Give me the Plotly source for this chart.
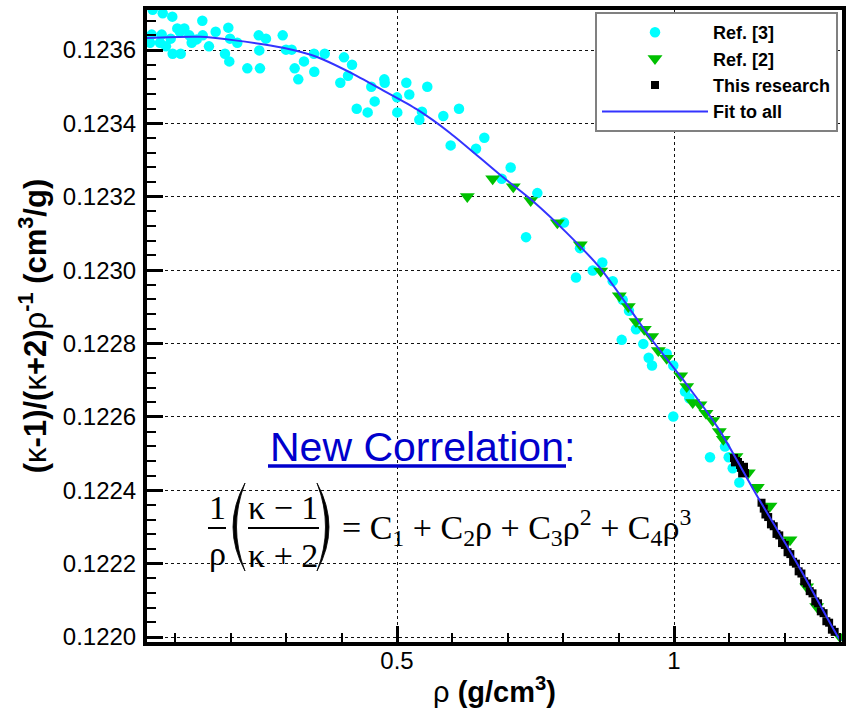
import plotly.graph_objects as go

# ---------------- data ----------------
ref3_rho = [0.0450, 0.0542, 0.0590, 0.0572, 0.0722, 0.0753, 0.0771, 0.0830, 0.0915, 0.0944,
            0.1034, 0.1083, 0.1161, 0.0951, 0.1096, 0.1251, 0.1294, 0.1384, 0.1486, 0.1493,
            0.1606, 0.1727, 0.1895, 0.1955, 0.1986, 0.1973, 0.2117, 0.2298, 0.2504, 0.2635,
            0.2514, 0.2527, 0.2937, 0.2996, 0.3099, 0.3153, 0.3218, 0.3321, 0.3502, 0.3507,
            0.3695, 0.4043, 0.4188, 0.3977, 0.4116, 0.4273, 0.4471, 0.4536, 0.4597, 0.4771,
            0.4778, 0.5000, 0.5005, 0.5168, 0.5222, 0.5451, 0.5403, 0.5547, 0.5836, 0.6119,
            0.5969, 0.6426, 0.6576, 0.7052, 0.6890, 0.7533, 0.7329, 0.8014, 0.8303, 0.8231,
            0.8532, 0.8706, 0.8894, 0.9074, 0.9188, 0.9314, 0.9056, 0.9446, 0.9543, 0.9603,
            0.9868, 0.9987, 1.0199, 1.0276, 0.9987, 1.0921, 1.0650, 1.0987, 1.1060, 1.1179]
ref3_val = [0.123631, 0.123620, 0.123710, 0.123642, 0.123620, 0.123642, 0.123700, 0.123610, 0.123631, 0.123691,
            0.123659, 0.123650, 0.123659, 0.123590, 0.123590, 0.123640, 0.123620, 0.123629, 0.123680, 0.123640,
            0.123610, 0.123650, 0.123590, 0.123661, 0.123631, 0.123569, 0.123620, 0.123550, 0.123640, 0.123631,
            0.123599, 0.123550, 0.123640, 0.123601, 0.123601, 0.123550, 0.123520, 0.123569, 0.123590, 0.123541,
            0.123590, 0.123580, 0.123560, 0.123511, 0.123530, 0.123440, 0.123430, 0.123500, 0.123460, 0.123520,
            0.123511, 0.123471, 0.123430, 0.123511, 0.123479, 0.123432, 0.123410, 0.123500, 0.123420, 0.123440,
            0.123340, 0.123331, 0.123361, 0.123280, 0.123249, 0.123210, 0.123090, 0.123130, 0.123060, 0.122980,
            0.122999, 0.123021, 0.122970, 0.122919, 0.122889, 0.122839, 0.122810, 0.122799, 0.122761, 0.122740,
            0.122772, 0.122740, 0.122669, 0.122651, 0.122601, 0.122519, 0.122490, 0.122490, 0.122460, 0.122421]

ref2_rho = [0.6269, 0.6727, 0.7099, 0.7413, 0.7894, 0.8309, 0.8677, 0.9013, 0.9175, 0.9314,
            0.9464, 0.9597, 0.9717, 0.9868, 1.0121, 1.0229, 1.0338, 1.0469, 1.0578, 1.0699,
            1.0818, 1.0890, 1.1119, 1.1341, 1.1504, 1.1733, 1.2094, 1.2395, 1.2576, 1.2996]
ref2_val = [0.123201, 0.123249, 0.123227, 0.123190, 0.123129, 0.123069, 0.122998, 0.122930, 0.122901, 0.122860,
            0.122839, 0.122819, 0.122781, 0.122760, 0.122712, 0.122683, 0.122639, 0.122633, 0.122610, 0.122590,
            0.122560, 0.122539, 0.122492, 0.122448, 0.122408, 0.122357, 0.122265, 0.122137, 0.122083, 0.122001]

this_rho = [1.1083, 1.1119, 1.1155, 1.1191, 1.1209, 1.1245, 1.1282, 1.1264, 1.1100, 1.1230,
            1.158, 1.162, 1.165, 1.170, 1.175, 1.180, 1.185, 1.190, 1.195, 1.200, 1.205,
            1.210, 1.215, 1.220, 1.225, 1.230, 1.235, 1.240, 1.245, 1.250, 1.255,
            1.260, 1.265, 1.270, 1.275, 1.280, 1.285, 1.290]
this_val = [0.122488, 0.122480, 0.122477, 0.122469, 0.122461, 0.122456, 0.122447, 0.122464, 0.122476, 0.122446,
            0.122366, 0.122350, 0.122334, 0.122327, 0.122307, 0.122302, 0.122281, 0.122277, 0.122256, 0.122251, 0.122231,
            0.122226, 0.122205, 0.122200, 0.122179, 0.122173, 0.122152, 0.122146, 0.122125, 0.122119, 0.122097,
            0.122092, 0.122070, 0.122065, 0.122043, 0.122039, 0.122020, 0.122014]

fit_rho = [0.0469, 0.1444, 0.2040, 0.2942, 0.3556, 0.4152, 0.4747, 0.5361, 0.5957, 0.6859,
           0.7455, 0.8069, 0.8664, 0.9585, 1.0181, 1.0794, 1.1498, 1.2220, 1.2942, 1.3014]
fit_val = [0.123633, 0.123636, 0.123627, 0.123606, 0.123581, 0.123539, 0.123490, 0.123438, 0.123374, 0.123260,
           0.123188, 0.123101, 0.123006, 0.122813, 0.122698, 0.122570, 0.122385, 0.122201, 0.122005, 0.121989]

x_tickvals = [0.5, 1.0]
x_ticktext = ["0.5", "1"]
legend_names = ["Ref. [3]", "Ref. [2]", "This research", "Fit to all"]

# ---------------- layout geometry ----------------
W, H = 846, 713
L, R, T, B = 147, 4, 10, 71
PW, PH = W - L - R, H - T - B


def px(xp):
    return (xp - L) / PW


def py(yp):
    return (H - B - yp) / PH


fig = go.Figure()
fig.add_trace(go.Scatter(x=ref3_rho, y=ref3_val, mode="markers", name=legend_names[0],
                         marker=dict(symbol="circle", size=10.5, color="#00FFFF", line=dict(width=0))))
fig.add_trace(go.Scatter(x=ref2_rho, y=ref2_val, mode="markers", name=legend_names[1],
                         marker=dict(symbol="triangle-down", size=13, color="#00C000", line=dict(width=0))))
fig.add_trace(go.Scatter(x=this_rho, y=this_val, mode="markers", name=legend_names[2],
                         marker=dict(symbol="square", size=8, color="black", line=dict(width=0))))
fig.add_trace(go.Scatter(x=fit_rho, y=fit_val, mode="lines", name=legend_names[3],
                         line=dict(color="#3333FF", width=2, shape="spline", smoothing=0.8)))

axis_font = dict(family="Liberation Sans, Arial, sans-serif", size=24, color="black")

fig.update_xaxes(range=[0.04874, 1.30325], tickmode="array", tickvals=x_tickvals, ticktext=x_ticktext,
                 ticks="inside", ticklen=16, tickwidth=3, tickcolor="black",
                 showline=True, linewidth=4, linecolor="black", mirror=True,
                 showgrid=True, gridcolor="#111111", gridwidth=1, griddash="dot",
                 zeroline=False, tickfont=axis_font, ticklabelstandoff=-6,
                 minor=dict(dtick=0.1, tick0=0, ticks="inside", ticklen=9, tickwidth=1.5,
                            tickcolor="black", showgrid=False),
                 title=dict(text="ρ <b>(g/cm<sup>3</sup>)</b>", standoff=10,
                            font=dict(family="Liberation Sans, Arial, sans-serif", size=29, color="black")))
fig.update_yaxes(range=[0.1219864, 0.1237091], dtick=0.0002, tick0=0.1220, tickformat=".4f",
                 ticks="inside", ticklen=16, tickwidth=3, tickcolor="black",
                 showline=True, linewidth=4, linecolor="black", mirror=True,
                 showgrid=True, gridcolor="#111111", gridwidth=1, griddash="dot",
                 zeroline=False, tickfont=axis_font, ticklabelstandoff=2,
                 minor=dict(dtick=0.00004, tick0=0.1220, ticks="inside", ticklen=9, tickwidth=1.5,
                            tickcolor="black", showgrid=False),
                 title=dict(text="<b>(</b>κ<b>-1)/(</b>κ<b>+2)</b>ρ<b><sup>-1</sup> (cm<sup>3</sup>/g)</b>",
                            standoff=8,
                            font=dict(family="Liberation Sans, Arial, sans-serif", size=31, color="black")))

serif = dict(family="Liberation Serif, Times New Roman, serif", size=34, color="black")
blue = "#0000CC"

annotations = [
    dict(x=px(268), y=py(447), xref="paper", yref="paper", xanchor="left", yanchor="middle",
         text="New Correlation:", showarrow=False,
         font=dict(family="Liberation Sans, Arial, sans-serif", size=41, color=blue)),
    dict(x=px(217), y=py(507), xref="paper", yref="paper", xanchor="center", yanchor="middle",
         text="1", showarrow=False, font=serif),
    dict(x=px(217), y=py(553), xref="paper", yref="paper", xanchor="center", yanchor="middle",
         text="ρ", showarrow=False, font=serif),
    dict(x=px(283), y=py(507), xref="paper", yref="paper", xanchor="center", yanchor="middle",
         text="κ − 1", showarrow=False, font=serif),
    dict(x=px(283), y=py(555), xref="paper", yref="paper", xanchor="center", yanchor="middle",
         text="κ + 2", showarrow=False, font=serif),
    dict(x=px(340), y=py(527), xref="paper", yref="paper", xanchor="left", yanchor="middle",
         text="= C<sub>1</sub> + C<sub>2</sub>ρ + C<sub>3</sub>ρ<sup>2</sup> + C<sub>4</sub>ρ<sup>3</sup>",
         showarrow=False, font=serif),
]


def P(x, y):
    return f"{px(x):.5f},{py(y):.5f}"


shapes = [
    # underline of "New Correlation"
    dict(type="line", xref="paper", yref="paper", x0=px(268), x1=px(566), y0=py(466), y1=py(466),
         line=dict(color=blue, width=3.5)),
    # fraction bars
    dict(type="line", xref="paper", yref="paper", x0=px(208), x1=px(226), y0=py(528), y1=py(528),
         line=dict(color="black", width=2)),
    dict(type="line", xref="paper", yref="paper", x0=px(248), x1=px(319), y0=py(528), y1=py(528),
         line=dict(color="black", width=2)),
    # big parentheses
    dict(type="path", xref="paper", yref="paper",
         path=f"M{P(245,483)} Q{P(221,527)} {P(245,571)} Q{P(228,527)} {P(245,483)} Z",
         fillcolor="black", line=dict(color="black", width=0.8)),
    dict(type="path", xref="paper", yref="paper",
         path=f"M{P(317,483)} Q{P(341,527)} {P(317,571)} Q{P(334,527)} {P(317,483)} Z",
         fillcolor="black", line=dict(color="black", width=0.8)),
]

fig.update_layout(
    width=W, height=H, margin=dict(l=L, r=R, t=T, b=B, autoexpand=False),
    paper_bgcolor="white", plot_bgcolor="white",
    font=dict(family="Liberation Sans, Arial, sans-serif", color="black"),
    showlegend=True,
    legend=dict(x=px(838), y=py(12), xanchor="right", yanchor="top",
                bgcolor="white", bordercolor="#808080", borderwidth=2,
                font=dict(family="Liberation Sans, Arial, sans-serif", size=18, color="black", weight="bold"),
                itemwidth=106, tracegroupgap=0),
    annotations=annotations, shapes=shapes,
)

fig.write_html("out.html", config={"displayModeBar": False},
               post_script="document.body.style.margin='0';document.body.style.overflow='hidden';")
